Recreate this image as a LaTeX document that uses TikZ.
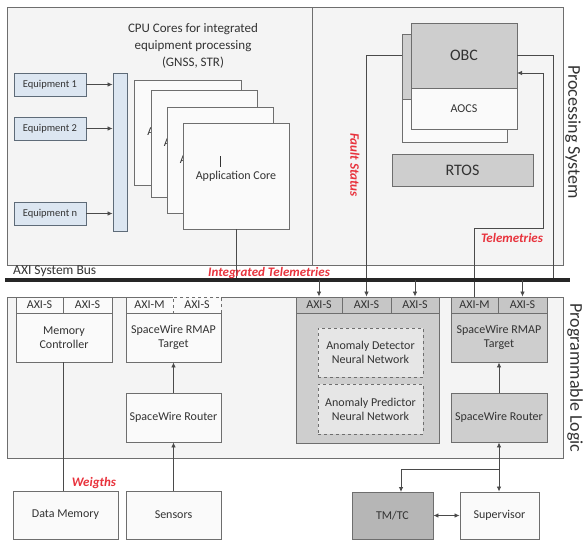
\documentclass[tikz,border=0pt]{standalone}
\usepackage{fontspec}
\setmainfont{Carlito}
\usetikzlibrary{arrows.meta}

\definecolor{linec}{HTML}{6E6E6E}
\definecolor{arrc}{HTML}{4A4A4A}
\definecolor{txt}{HTML}{333333}
\definecolor{panelfill}{HTML}{F4F4F4}
\definecolor{grayfill}{HTML}{CECECE}
\definecolor{grayhead}{HTML}{C6C6C6}
\definecolor{lightfill}{HTML}{FAFAFA}
\definecolor{nnfill}{HTML}{E6E6E6}
\definecolor{eqfill}{HTML}{DCE6F1}
\definecolor{eqline}{HTML}{5E6B78}
\definecolor{redlbl}{HTML}{E8323C}
\definecolor{tmfill}{HTML}{B6B6B6}

\begin{document}
\begin{tikzpicture}[x=1pt,y=-1pt,
  panel/.style={draw=linec, fill=panelfill, line width=0.9pt, inner sep=0pt},
  box/.style={draw=linec, line width=0.9pt, inner sep=0pt, align=center, text=txt,
              font=\fontsize{12}{14}\selectfont},
  wbox/.style={box, fill=lightfill},
  gbox/.style={box, fill=grayfill},
  hbox/.style={box, fill=grayhead},
  nnbox/.style={box, fill=nnfill, dashed},
  eqbox/.style={draw=eqline, fill=eqfill, line width=0.9pt, inner sep=0pt, text=txt,
                font=\fontsize{10.5}{12}\selectfont},
  redlabel/.style={text=redlbl, font=\fontsize{13}{15}\selectfont\bfseries\itshape, inner sep=0pt},
  sidelabel/.style={text=txt, font=\fontsize{18}{20}\selectfont, rotate=-90, inner sep=0pt},
  wire/.style={draw=arrc, line width=0.8pt},
  arr/.style={wire, -{Latex[length=5pt,width=4.5pt]}},
  arrboth/.style={wire, {Latex[length=5pt,width=4.5pt]}-{Latex[length=5pt,width=4.5pt]}},
  busline/.style={draw=black!85, line width=3.6pt},
]
\useasboundingbox (0,0) rectangle (583,541);

% ---------------- Processing System ----------------
\node[panel, minimum width=556pt, minimum height=258pt] (ps) at (285,136) {};
\coordinate (divT) at (312,7);
\coordinate (divB) at (312,265);
\draw[draw=linec, line width=0.9pt] (divT) -- (divB);
\node[sidelabel] (pslbl) at (573,132) {Processing System};

\node[text=txt, align=center, font=\fontsize{13}{17}\selectfont, inner sep=0pt] (cputitle)
  at (193,46) {CPU Cores for integrated\\equipment processing\\(GNSS, STR)};

% equipment inputs and input bus
\node[eqbox, minimum width=72pt, minimum height=23pt] (eq1) at (50,84.5) {Equipment 1};
\node[eqbox, minimum width=72pt, minimum height=23pt] (eq2) at (50,128.5) {Equipment 2};
\node[eqbox, minimum width=72pt, minimum height=23pt] (eqn) at (50,213.5) {Equipment n};
\node[eqbox, minimum width=14pt, minimum height=158pt] (bar) at (120,152) {};
\draw[arr] (eq1.east) -- (eq1.east -| bar.west);
\draw[arr] (eq2.east) -- (eq2.east -| bar.west);
\draw[arr] (eqn.east) -- (eqn.east -| bar.west);

% stacked application cores
\node[wbox, minimum width=107pt, minimum height=105pt] (c1) at (187.5,132.5) {Application Core};
\node[wbox, minimum width=106pt, minimum height=107pt] (c2) at (204,143.5) {Application Core};
\node[wbox, minimum width=106pt, minimum height=106pt] (c3) at (220,160) {Application Core};
\node[wbox, minimum width=106pt, minimum height=106pt] (c4) at (236,176) {Application Core};
\coordinate (cur1) at (220,156);
\coordinate (cur2) at (220,167);
\draw[draw=txt, line width=0.8pt] (cur1) -- (cur2);

% bus tap points
\coordinate (busL) at (5,280);
\coordinate (busR) at (570,280);
\coordinate (obcbus) at (553,280);
\coordinate (tele) at (543,228);
\coordinate (obcin) at (517,73);

% ---------------- Programmable Logic ----------------
\node[panel, minimum width=556pt, minimum height=161pt] (pl) at (285,377.5) {};
\node[sidelabel] (pllbl) at (575,378) {Programmable Logic};

% memory controller
\node[wbox, minimum width=96pt, minimum height=49pt] (mc) at (64,337.5) {Memory\\Controller};
\node[wbox, minimum width=47pt, minimum height=16pt] (axs5) at (39.5,305) {AXI-S};
\node[wbox, minimum width=49pt, minimum height=16pt] (axs6) at (87.5,305) {AXI-S};

% left SpaceWire chain
\node[wbox, minimum width=95pt, minimum height=49pt] (tg1) at (173.5,337.5) {SpaceWire RMAP\\Target};
\node[wbox, minimum width=47pt, minimum height=16pt] (axm1) at (149.5,305) {AXI-M};
\node[wbox, dashed, minimum width=48pt, minimum height=16pt] (axs7) at (197,305) {AXI-S};
\node[wbox, minimum width=95pt, minimum height=49pt] (rt1) at (173.5,417.5) {SpaceWire Router};
\draw[arr] (rt1.north) -- (tg1.south);

% anomaly detection block
\node[gbox, minimum width=143pt, minimum height=146pt] (anom) at (367.5,370) {};
\node[hbox, minimum width=46pt, minimum height=16pt] (axs1) at (319,305) {AXI-S};
\node[hbox, minimum width=49pt, minimum height=16pt] (axs2) at (366.5,305) {AXI-S};
\node[hbox, minimum width=48pt, minimum height=16pt] (axs3) at (415,305) {AXI-S};
\node[nnbox, minimum width=105pt, minimum height=49pt] (det) at (370.5,352.5) {Anomaly Detector\\Neural Network};
\node[nnbox, minimum width=105pt, minimum height=50pt] (pred) at (370.5,409) {Anomaly Predictor\\Neural Network};

% right SpaceWire chain
\node[gbox, minimum width=96pt, minimum height=49pt] (tg2) at (499,337.5) {SpaceWire RMAP\\Target};
\node[hbox, minimum width=47pt, minimum height=16pt] (axm2) at (474.5,305) {AXI-M};
\node[hbox, minimum width=49pt, minimum height=16pt] (axs4) at (522.5,305) {AXI-S};
\node[gbox, minimum width=96pt, minimum height=49pt] (rt2) at (499,417.5) {SpaceWire Router};
\draw[arr] (rt2.north) -- (tg2.south);

% ---------------- OBC / AOCS / RTOS ----------------
\node[gbox, minimum width=105pt, minimum height=65pt] (obcbk) at (454.5,66.5) {};
\node[wbox, minimum width=105pt, minimum height=43pt] (aocsbk) at (454.5,120.5) {};
\node[gbox, minimum width=106pt, minimum height=65pt, font=\fontsize{16}{18}\selectfont] (obc) at (464,55.5) {OBC};
\node[wbox, minimum width=106pt, minimum height=41pt] (aocs) at (464,108.5) {AOCS};
\node[gbox, minimum width=141pt, minimum height=32pt, font=\fontsize{16}{18}\selectfont] (rtos) at (462.5,170) {RTOS};

% processing-system connections
\draw[wire] (c4.south) -- (c4.south |- busL);
\draw[arr] (obcbk.west |- obc.west) -| (axs2.north);
\draw[wire] (obc.east) -| (obcbus);
\draw[arr] (axm2.north) |- (tele) |- (obcin);

\node[redlabel, rotate=-90] (fault) at (355,165) {Fault Status};
\node[redlabel] (telelbl) at (512,238) {Telemetries};

% AXI system bus
\draw[busline] (busL) -- (busR);
\node[text=txt, font=\fontsize{13.5}{15}\selectfont, inner sep=0pt, anchor=west] (buslbl) at (13,271) {AXI System Bus};
\node[redlabel] (intlbl) at (269,273) {Integrated Telemetries};

\draw[arr] (axs1.north |- busL) -- (axs1.north);
\draw[arr] (axs3.north |- busL) -- (axs3.north);
\draw[arr] (axs4.north |- busL) -- (axs4.north);

% ---------------- external devices ----------------
\node[wbox, minimum width=105pt, minimum height=48pt] (dmem) at (65.5,515) {Data Memory};
\node[wbox, minimum width=95pt, minimum height=48pt] (sens) at (173.5,515) {Sensors};
\node[box, fill=tmfill, minimum width=81pt, minimum height=47pt] (tmtc) at (392.5,515.5) {TM/TC};
\node[wbox, minimum width=79pt, minimum height=47pt] (sup) at (499.5,515.5) {Supervisor};

\draw[wire] (axs5.east |- mc.south) -- (axs5.east |- dmem.north);
\node[redlabel] (wlbl) at (94,483) {Weigths};
\draw[arr] (sens.north) -- (rt1.south);

\coordinate (jn) at (499,469);
\coordinate (tmin) at (401,492);
\draw[arrboth] (rt2.south) -- (rt2.south |- sup.north);
\draw[arr] (jn) -| (tmin);
\draw[arrboth] (tmtc.east) -- (sup.west);

\end{tikzpicture}
\end{document}
